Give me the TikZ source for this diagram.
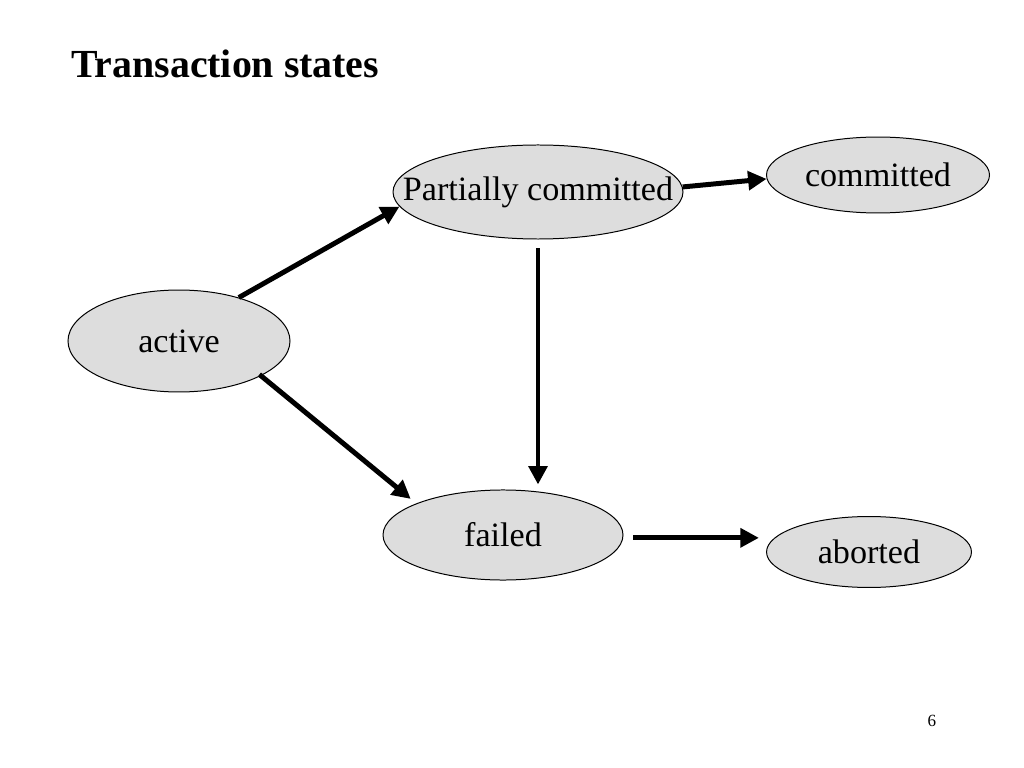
\documentclass[tikz,border=0pt]{standalone}
\usepackage{fontspec}
\setmainfont{Liberation Serif}
\usetikzlibrary{arrows.meta,shapes.geometric}
\definecolor{statefill}{HTML}{DDDDDD}
\begin{document}
\begin{tikzpicture}[x=0.703125pt,y=-0.703125pt,
  state/.style={ellipse,draw=black,line width=0.7pt,fill=statefill,inner sep=0pt,
    font=\fontsize{24}{28}\selectfont},
  trans/.style={line width=3.5pt,-{Triangle[length=13pt,width=13pt]}}]
\useasboundingbox (0,0) rectangle (1024,768);
\node[anchor=base west,inner sep=0pt,font=\bfseries\fontsize{28}{32}\selectfont] (title) at (71,78) {Transaction states};
\node[state,minimum width=156.1pt,minimum height=71.7pt] (active) at (179,341) {\makebox[0pt]{active}};
\node[state,minimum width=203.9pt,minimum height=66.1pt] (pc) at (538,192) {\makebox[0pt]{Partially committed}};
\node[state,minimum width=156.8pt,minimum height=53.4pt] (committed) at (878,175) {\makebox[0pt]{committed}};
\node[state,minimum width=168.75pt,minimum height=63.3pt] (failed) at (503,535) {\makebox[0pt]{failed}};
\node[state,minimum width=144.1pt,minimum height=49.9pt] (aborted) at (869,552) {\makebox[0pt]{aborted}};
\node[anchor=base,inner sep=0pt,font=\fontsize{12}{14}\selectfont] (page) at (932,726) {6};
\draw[trans] (active.36) -- (pc.186);
\draw[trans] (pc.2) -- (committed.182);
\draw[trans,shorten <=6.3pt,shorten >=3.5pt] (pc.south) -- (pc.south |- failed.north);
\draw[trans,shorten <=-1.5pt,shorten >=5pt] (active.-23) -- (failed.160);
\coordinate (fa) at ([yshift=-2pt]failed.east);
\draw[trans,shorten <=7pt,shorten >=5pt] (fa) -- (fa -| aborted.west);
\end{tikzpicture}
\end{document}
